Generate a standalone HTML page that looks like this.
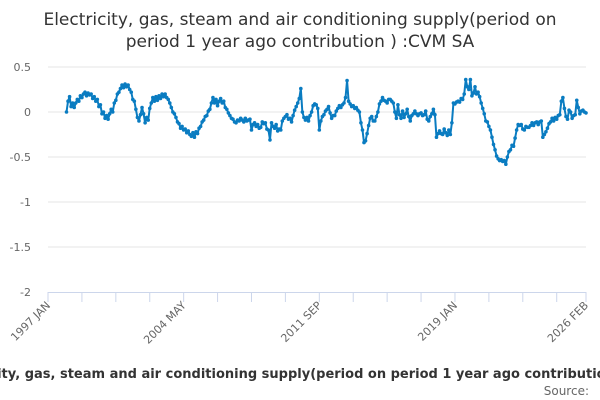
<!DOCTYPE html>
<html><head><meta charset="utf-8"><style>
html,body{margin:0;padding:0;background:#fff;}
svg{display:block;font-family:"DejaVu Sans","Liberation Sans",sans-serif;}
</style></head><body>
<svg id="chart" width="600" height="400" viewBox="0 0 600 400">
<text x="300" y="25" text-anchor="middle" font-size="17" fill="#333">Electricity, gas, steam and air conditioning supply(period on</text>
<text x="300" y="47" text-anchor="middle" font-size="17" fill="#333">period 1 year ago contribution ) :CVM SA</text>
<g id="grid"></g>
<g id="yl"></g>
<g id="xa"></g>
<g id="series"></g>
<text x="317" y="378" text-anchor="middle" font-size="13" font-weight="bold" fill="#333">Electricity, gas, steam and air conditioning supply(period on period 1 year ago contribution ) :CVM SA</text>
<text x="589" y="395" text-anchor="end" font-size="12" fill="#666">Source:</text>
</svg>
<script>
const yTicks=[0.5,0,-0.5,-1,-1.5,-2];
const yTickLabels=["0.5","0","-0.5","-1","-1.5","-2"];
const xLabelIdx=[0,88,176,264,349];
const xLabels=["1997 JAN","2004 MAY","2011 SEP","2019 JAN","2026 FEB"];
const startIdx=12;
const values=[
0.0,0.12,0.17,0.06,0.10,0.05,0.10,0.14,0.12,0.18,
0.16,0.2,0.22,0.18,0.21,0.19,0.2,0.15,0.17,0.12,
0.14,0.06,0.08,-0.02,0.0,-0.07,-0.04,-0.08,-0.02,0.03,
0.0,0.1,0.13,0.2,0.22,0.26,0.3,0.27,0.31,0.28,
0.3,0.25,0.22,0.14,0.12,0.03,-0.06,-0.1,-0.03,0.05,
-0.02,-0.12,-0.06,-0.09,0.04,0.1,0.16,0.12,0.17,0.13,
0.18,0.15,0.2,0.17,0.2,0.16,0.14,0.1,0.05,0.0,
-0.02,-0.06,-0.11,-0.13,-0.18,-0.16,-0.2,-0.19,-0.23,-0.21,
-0.25,-0.27,-0.23,-0.28,-0.22,-0.24,-0.18,-0.16,-0.11,-0.09,
-0.05,-0.04,0.01,0.03,0.1,0.16,0.1,0.14,0.07,0.12,
0.15,0.1,0.12,0.05,0.03,-0.01,-0.04,-0.07,-0.08,-0.11,
-0.12,-0.09,-0.1,-0.07,-0.09,-0.11,-0.07,-0.1,-0.09,-0.08,
-0.2,-0.14,-0.12,-0.16,-0.14,-0.18,-0.17,-0.11,-0.13,-0.12,
-0.19,-0.2,-0.31,-0.12,-0.16,-0.18,-0.14,-0.21,-0.19,-0.2,
-0.1,-0.07,-0.05,-0.03,-0.08,-0.07,-0.11,-0.04,0.02,0.06,
0.1,0.15,0.26,0.0,-0.06,-0.09,-0.06,-0.1,-0.04,0.0,
0.07,0.09,0.08,0.04,-0.2,-0.1,-0.05,-0.03,0.01,0.03,
0.06,-0.01,-0.07,-0.04,-0.04,0.01,0.04,0.07,0.05,0.08,
0.1,0.16,0.35,0.12,0.09,0.06,0.07,0.04,0.05,0.02,
0.0,-0.12,-0.2,-0.34,-0.32,-0.24,-0.15,-0.07,-0.05,-0.1,
-0.1,-0.05,0.0,0.09,0.12,0.16,0.13,0.12,0.1,0.14,
0.14,0.12,0.1,0.0,-0.07,0.08,-0.03,-0.07,0.01,-0.06,
-0.02,0.03,-0.05,-0.1,-0.04,-0.02,0.01,-0.02,-0.04,-0.02,
-0.01,-0.04,-0.03,0.01,-0.08,-0.1,-0.05,-0.02,0.03,-0.03,
-0.28,-0.24,-0.21,-0.24,-0.25,-0.19,-0.23,-0.26,-0.2,-0.25,
-0.12,0.1,0.09,0.11,0.12,0.11,0.15,0.14,0.2,0.36,
0.28,0.25,0.36,0.18,0.21,0.28,0.2,0.22,0.17,0.1,
0.04,-0.02,-0.1,-0.11,-0.16,-0.2,-0.28,-0.36,-0.42,-0.49,
-0.52,-0.54,-0.53,-0.55,-0.54,-0.58,-0.5,-0.44,-0.42,-0.37,
-0.38,-0.29,-0.2,-0.14,-0.15,-0.14,-0.19,-0.2,-0.16,-0.17,
-0.17,-0.15,-0.12,-0.15,-0.12,-0.11,-0.14,-0.11,-0.1,-0.28,
-0.25,-0.22,-0.18,-0.13,-0.11,-0.07,-0.1,-0.06,-0.08,-0.04,
-0.03,0.12,0.16,0.04,-0.05,-0.08,0.02,0.0,-0.07,-0.04,
-0.03,0.13,0.05,-0.02,0.01,0.02,0.0,-0.01
];
const NS="http://www.w3.org/2000/svg";
const L=48,R=586,T=67,B=292,N=349;
const yMin=-2,yMax=0.5;
function xs(i){return L+(R-L)*i/N;}
function ys(v){return B-(v-yMin)/(yMax-yMin)*(B-T);}
function mk(tag,attrs,parent){const e=document.createElementNS(NS,tag);for(const k in attrs)e.setAttribute(k,attrs[k]);parent.appendChild(e);return e;}
const grid=document.getElementById('grid'),yl=document.getElementById('yl'),xa=document.getElementById('xa'),ser=document.getElementById('series');
yTicks.forEach((t,k)=>{
 if(t!==yMin){const g=mk('line',{x1:L,x2:R,y1:ys(t),y2:ys(t),stroke:'#e6e6e6','stroke-width':1},grid);
 
 }
 const tx=mk('text',{x:31,y:ys(t)+4,'text-anchor':'end','font-size':11,fill:'#666'},yl);
 tx.textContent=yTickLabels[k];
 
 
});
const ax=mk('line',{x1:L,x2:R,y1:B+0.5,y2:B+0.5,stroke:'#ccd6eb','stroke-width':1},xa);


for(let i=0;i<=N;i+=22){
 const tk=mk('line',{x1:xs(i),x2:xs(i),y1:B,y2:B+10,stroke:'#ccd6eb'},xa);
 
 
}
const lt=mk('line',{x1:xs(N),x2:xs(N),y1:B,y2:B+10,stroke:'#ccd6eb'},xa);


xLabelIdx.forEach((i,k)=>{
 const x=xs(i)+3,y=B+14;
 const tx=mk('text',{x:x,y:y,'text-anchor':'end','font-size':11,fill:'#666',transform:`rotate(-45 ${x} ${y})`},xa);
 tx.textContent=xLabels[k];
 
 
});
const pts=values.map((v,j)=>[xs(startIdx+j),ys(v)]);
const path=mk('path',{d:'M'+pts.map(p=>p[0].toFixed(2)+','+p[1].toFixed(2)).join('L'),fill:'none',stroke:'#0a7cc1','stroke-width':2,'stroke-linejoin':'round'},ser);


pts.forEach(p=>{
 const c=mk('circle',{cx:p[0],cy:p[1],r:1.8,fill:'#0a7cc1'},ser);
 
 
});
</script>
</body></html>
